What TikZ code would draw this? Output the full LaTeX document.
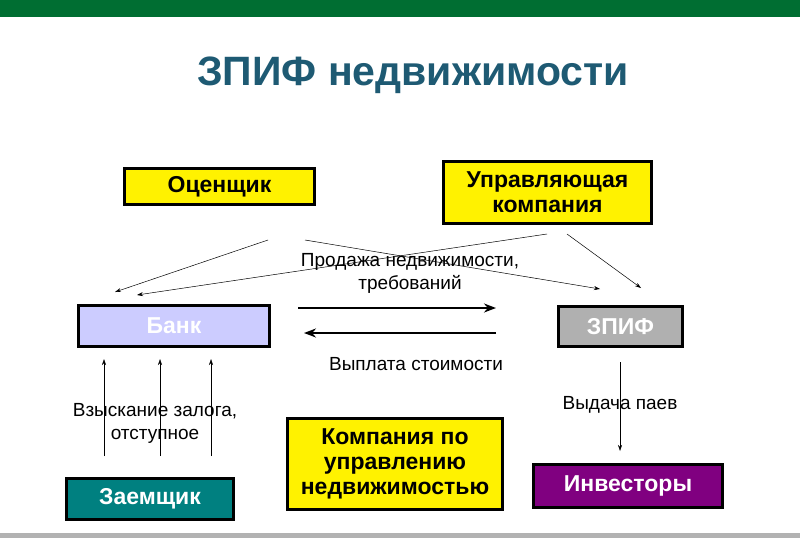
\documentclass[tikz,border=0pt]{standalone}
\usepackage{fontspec}
\setmainfont{Liberation Sans}
\usetikzlibrary{arrows.meta}

\begin{document}
\begin{tikzpicture}[x=1pt,y=-1pt]

\tikzset{box/.style = {draw=black, line width=3.5pt, font=\bfseries\fontsize{23}{25}\selectfont, align=center, inner sep=0pt}}
\tikzset{arc/.style = {-{Stealth[length=6pt,width=4pt]}, line width=0.5pt}}
\tikzset{flow/.style = {-{Stealth[length=12pt,width=9pt]}, line width=2.5pt}}
\tikzset{lbl/.style = {font=\fontsize{19}{23}\selectfont, align=center}}

\definecolor{topgreen}{RGB}{0,110,50}
\definecolor{titleblue}{RGB}{30,90,115}
\definecolor{bank}{RGB}{204,204,255}
\definecolor{fund}{RGB}{176,176,176}
\definecolor{borrower}{RGB}{0,128,128}
\definecolor{investor}{RGB}{128,0,128}

\useasboundingbox (0,0) rectangle (800,538);
\fill[topgreen] (0,0) rectangle (800,17);
\fill[gray!60] (0,533) rectangle (800,538);

% title
\node[font=\bfseries\fontsize{41}{48}\selectfont, text=titleblue] (title) at (413,75) {ЗПИФ недвижимости};

% boxes
\node[box, fill=yellow, minimum width=190, minimum height=36] (ocen) at (219.5,186.5) {Оценщик};
\node[box, fill=yellow, minimum width=208, minimum height=62] (uk) at (547.5,192.5) {Управляющая\\компания};
\node[box, fill=bank, text=white, minimum width=191, minimum height=41] (bank) at (174,326) {Банк};
\node[box, fill=fund, text=white, minimum width=124, minimum height=40] (zpif) at (620.5,326.5) {ЗПИФ};
\node[box, fill=borrower, text=white, minimum width=167, minimum height=41] (borr) at (150,499) {Заемщик};
\node[box, fill=yellow, minimum width=215, minimum height=91] (kupn) at (395,464) {Компания по\\управлению\\недвижимостью};
\node[box, fill=investor, text=white, minimum width=189, minimum height=43] (inv) at (628,486) {Инвесторы};

% labels
\node[lbl] (sale) at (410,273) {Продажа недвижимости,\\требований};
\node[lbl] (pay) at (416,364) {Выплата стоимости};
\node[lbl] (recov) at (155,423) {Взыскание залога,\\отступное};
\node[lbl] (units) at (620,405) {Выдача паев};

% end points
\coordinate (o1) at (268,240); \coordinate (b1) at (115,292);
\coordinate (o2) at (305,240); \coordinate (z1) at (600,289);
\coordinate (u1) at (547,234); \coordinate (b2) at (137,295);
\coordinate (u2) at (567,234); \coordinate (z2) at (641,288);
\coordinate (s1) at (298,308); \coordinate (s2) at (496,308);
\coordinate (p1) at (496,333); \coordinate (p2) at (304,333);
\foreach \x/\n in {104/1,160/2,211/3} {
  \coordinate (r\n a) at (\x,456); \coordinate (r\n b) at (\x,359);
}
\coordinate (d1) at (620,362); \coordinate (d2) at (620,451);

% arcs
\draw[arc] (o1) -- (b1);
\draw[arc] (o2) -- (z1);
\draw[arc] (u1) -- (b2);
\draw[arc] (u2) -- (z2);
\draw[flow] (s1) -- (s2);
\draw[flow] (p1) -- (p2);
\draw[arc] (r1a) -- (r1b);
\draw[arc] (r2a) -- (r2b);
\draw[arc] (r3a) -- (r3b);
\draw[arc] (d1) -- (d2);

\end{tikzpicture}
\end{document}
